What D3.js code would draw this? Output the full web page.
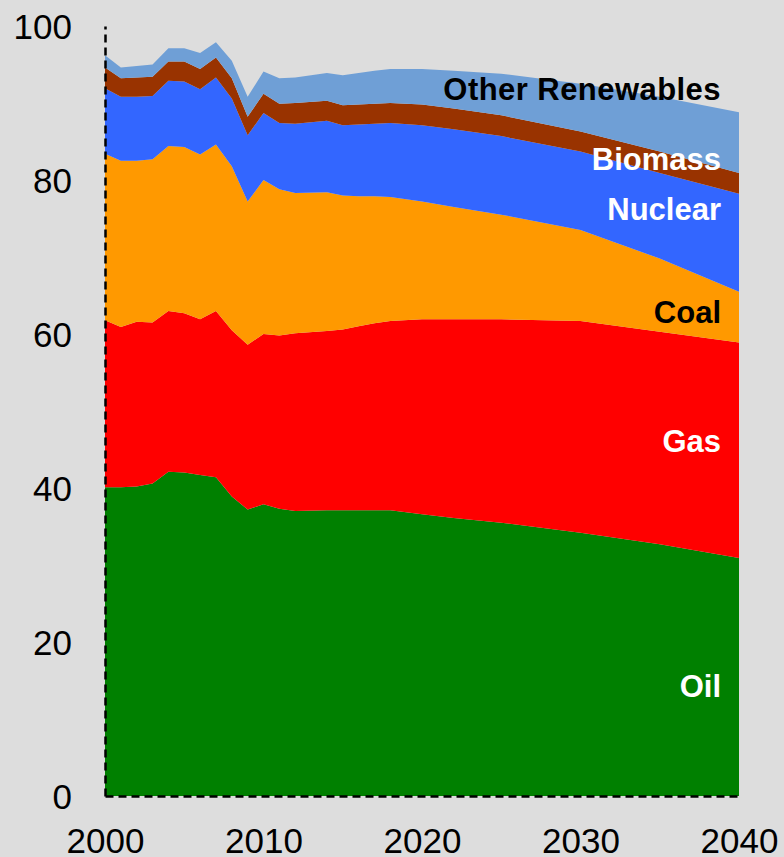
<!DOCTYPE html>
<html>
<head>
	<meta charset="utf-8">
	<title>Energy mix</title>
	<script src="https://cdn.jsdelivr.net/npm/d3@7"></script>
	<style>
		body { margin: 0; background: #dddddd; }
		svg { display: block; }
	</style>
</head>
<body>
	<div id="chart"></div>
	<script>

		// data (share of total, stacked bottom to top)
		const years   = [2000, 2001, 2002, 2003, 2004, 2005, 2006, 2007, 2008, 2009, 2010, 2011, 2012, 2014, 2015, 2016, 2017, 2018, 2020, 2022, 2025, 2030, 2035, 2040];
		const oil     = [40.1, 40.1, 40.2, 40.6, 42.1, 42.0, 41.7, 41.4, 38.9, 37.2, 37.9, 37.3, 37.0, 37.1, 37.1, 37.1, 37.1, 37.1, 36.6, 36.1, 35.5, 34.2, 32.7, 30.9];
		const gas     = [21.7, 20.8, 21.4, 20.9, 20.9, 20.7, 20.2, 21.6, 21.6, 21.4, 22.1, 22.5, 23.1, 23.3, 23.5, 23.9, 24.3, 24.6, 25.3, 25.8, 26.4, 27.5, 27.6, 28.0];
		const coal    = [21.6, 21.6, 20.9, 21.2, 21.4, 21.6, 21.4, 21.6, 21.3, 18.6, 20.0, 19.0, 18.2, 18.0, 17.4, 16.9, 16.5, 16.1, 15.3, 14.6, 13.6, 11.8, 9.5, 6.6];
		const nuclear = [8.5, 8.3, 8.3, 8.2, 8.5, 8.5, 8.5, 8.7, 8.8, 8.6, 8.7, 8.6, 9.0, 9.3, 9.1, 9.3, 9.4, 9.6, 9.9, 10.1, 10.2, 10.2, 11.1, 12.7];
		const biomass = [2.7, 2.4, 2.5, 2.5, 2.5, 2.6, 2.6, 2.6, 2.6, 2.4, 2.5, 2.5, 2.7, 2.6, 2.6, 2.6, 2.6, 2.6, 2.7, 2.7, 2.7, 2.6, 2.8, 2.7];
		const otherRenewables = [1.6, 1.4, 1.5, 1.6, 1.7, 1.7, 2.1, 2.0, 2.3, 2.6, 2.9, 3.3, 3.3, 3.6, 3.9, 4.1, 4.3, 4.4, 4.6, 4.9, 5.4, 6.2, 7.1, 7.9];

		const seriesNames = ["Oil", "Gas", "Coal", "Nuclear", "Biomass", "Other Renewables"];
		const seriesValues = [oil, gas, coal, nuclear, biomass, otherRenewables];
		const xTicks = [2000, 2010, 2020, 2030, 2040];
		const yTicks = [0, 20, 40, 60, 80, 100];

		// styling
		const width  = 784;
		const height = 857;
		const colors = {
			"Oil": "#008000",
			"Gas": "#ff0000",
			"Coal": "#ff9900",
			"Nuclear": "#3366ff",
			"Biomass": "#993300",
			"Other Renewables": "#6f9fd6"
		};
		const labelStyle = {
			"Oil": { y: 697, fill: "#ffffff", spacing: 0 },
			"Gas": { y: 452, fill: "#ffffff", spacing: 0 },
			"Coal": { y: 323, fill: "#000000", spacing: 0 },
			"Nuclear": { y: 220, fill: "#ffffff", spacing: 0 },
			"Biomass": { y: 170, fill: "#ffffff", spacing: 0 },
			"Other Renewables": { y: 100, fill: "#000000", spacing: 0.45 }
		};
		const fontFamily = "Arial, 'Liberation Sans', Helvetica, sans-serif";

		// build table for d3.stack
		const table = years.map((yr, i) => {
			const row = { year: yr };
			seriesNames.forEach((name, k) => row[name] = seriesValues[k][i]);
			return row;
		});

		const x = d3.scaleLinear().domain([2000, 2040]).range([105, 739]);
		const y = d3.scaleLinear().domain([0, 100]).range([796, 26]);

		const stack = d3.stack().keys(seriesNames);
		const layers = stack(table);

		const area = d3.area()
			.x(d => x(d.data.year))
			.y0(d => y(d[0]))
			.y1(d => y(d[1]));

		const svg = d3.select("#chart")
			.append("svg")
			.attr("width", width)
			.attr("height", height)
			.attr("viewBox", [0, 0, width, height]);

		svg.append("rect")
			.attr("width", width)
			.attr("height", height)
			.attr("fill", "#dddddd");

		svg.append("g")
			.selectAll("path")
			.data(layers)
			.join("path")
			.attr("fill", d => colors[d.key])
			.attr("d", area);

		// axes
		const yAxis = d3.axisLeft(y).tickValues(yTicks).tickSize(0).tickPadding(33);
		const xAxis = d3.axisBottom(x).tickValues(xTicks).tickFormat(d3.format("d")).tickSize(0).tickPadding(32);

		svg.append("g")
			.attr("transform", "translate(105,0)")
			.call(yAxis)
			.call(g => g.select(".domain")
				.attr("stroke", "#000")
				.attr("stroke-width", 2.5)
				.attr("stroke-dasharray", "8,5"))
			.call(g => g.selectAll(".tick text")
				.attr("font-family", fontFamily)
				.attr("font-size", 35)
				.attr("fill", "#000")
				.attr("dy", "0.36em"));

		svg.append("g")
			.attr("transform", "translate(0,796)")
			.call(xAxis)
			.call(g => g.select(".domain")
				.attr("stroke", "#000")
				.attr("stroke-width", 2.5)
				.attr("stroke-dasharray", "8,5"))
			.call(g => g.selectAll(".tick text")
				.attr("font-family", fontFamily)
				.attr("font-size", 35)
				.attr("fill", "#000"));

		// series labels
		svg.append("g")
			.selectAll("text")
			.data(seriesNames)
			.join("text")
			.attr("x", 721)
			.attr("y", d => labelStyle[d].y)
			.attr("text-anchor", "end")
			.attr("font-family", fontFamily)
			.attr("font-weight", "bold")
			.attr("font-size", 31)
			.attr("letter-spacing", d => labelStyle[d].spacing)
			.attr("fill", d => labelStyle[d].fill)
			.text(d => d);

	</script>
</body>
</html>
